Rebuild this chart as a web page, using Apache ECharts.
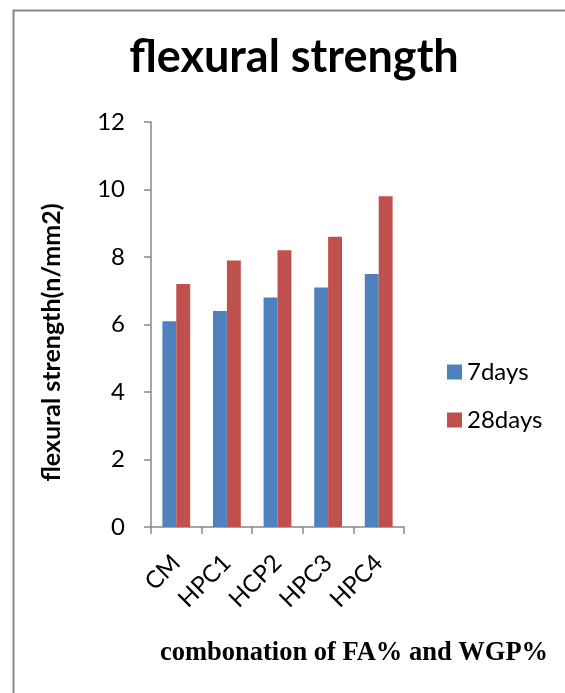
<!DOCTYPE html>
<html><head><meta charset="utf-8">
<script src="https://cdn.jsdelivr.net/npm/echarts@6/dist/echarts.min.js"></script>
<style>html,body{margin:0;padding:0;background:#fff}#c{width:565px;height:693px}</style>
</head><body><div id="c"></div>
<script>
const categories = ['CM', 'HPC1', 'HCP2', 'HPC3', 'HPC4'];
const days7 = [6.1, 6.4, 6.8, 7.1, 7.5];
const days28 = [7.2, 7.9, 8.2, 8.6, 9.8];
const seriesNames = ['7days', '28days'];

const chart = echarts.init(document.getElementById('c'));
const font = 'Lato, "Open Sans", sans-serif';
chart.setOption({
  animation: false,
  backgroundColor: '#fff',
  graphic: [{
    type: 'rect', shape: {x: 13.5, y: 10.5, width: 700, height: 800},
    style: {fill: 'none', stroke: '#888', lineWidth: 2}, silent: true
  }],
  title: {
    text: 'flexural strength', left: 289, top: 30, textAlign: 'center',
    textStyle: {fontFamily: font, fontWeight: 'bold', fontSize: 45, color: '#000'}
  },
  legend: {
    orient: 'vertical', left: 442, top: 355, itemWidth: 15, itemHeight: 15, itemGap: 24,
    icon: 'rect',
    textStyle: {fontFamily: font, fontSize: 24, color: '#000'},
    data: seriesNames
  },
  grid: {left: 151, right: 161, top: 122, bottom: 166, containLabel: false, outerBoundsMode: 'none'},
  xAxis: {
    type: 'category', data: categories,
    name: 'combonation of FA% and WGP%', nameLocation: 'middle', nameGap: 113,
    nameTextStyle: {fontFamily: '"Liberation Serif", serif', fontWeight: 'bold', fontSize: 26.5, color: '#000', padding: [0, 0, 0, 153]},
    axisLine: {lineStyle: {color: '#888', width: 1.5}},
    axisTick: {show: true, length: 7, lineStyle: {color: '#888', width: 1.5}},
    axisLabel: {rotate: 45, fontFamily: font, fontSize: 24, color: '#000', margin: 32}
  },
  yAxis: {
    type: 'value', min: 0, max: 12, interval: 2,
    name: 'flexural strength(n/mm2)', nameLocation: 'middle', nameGap: 87,
    nameTextStyle: {fontFamily: font, fontWeight: 'bold', fontSize: 25, color: '#000', padding: [0, 36, 0, 0]},
    axisLine: {show: true, lineStyle: {color: '#888', width: 1.5}},
    axisTick: {show: true, length: 7, lineStyle: {color: '#888', width: 1.5}},
    splitLine: {show: false},
    axisLabel: {fontFamily: font, fontSize: 24, color: '#000', margin: 26}
  },
  series: [
    {name: seriesNames[0], type: 'bar', data: days7, barGap: '0%', barCategoryGap: '45%', itemStyle: {color: '#4F81BD'}},
    {name: seriesNames[1], type: 'bar', data: days28, itemStyle: {color: '#C0504D'}}
  ]
});
</script></body></html>
